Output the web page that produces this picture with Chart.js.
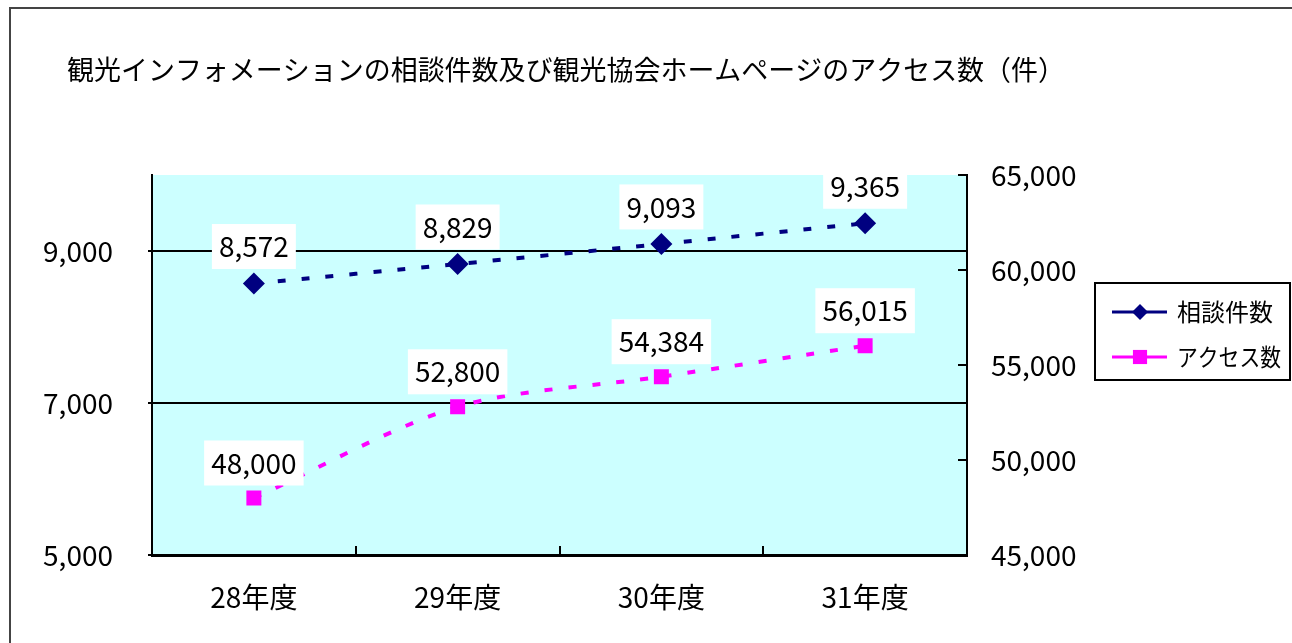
<!DOCTYPE html>
<html>
<head>
<meta charset="utf-8">
<script src="https://cdn.jsdelivr.net/npm/chart.js@4/dist/chart.umd.min.js"></script>
<style>
  html, body { margin: 0; padding: 0; background: #fff; }
  #wrap { width: 1292px; height: 643px; }
</style>
</head>
<body>
<div id="wrap"><canvas id="chart" width="1292" height="643"></canvas></div>
<script>
var categories = ['28年度', '29年度', '30年度', '31年度'];
var consultCounts = [8572, 8829, 9093, 9365];
var accessCounts = [48000, 52800, 54384, 56015];
var leftTicks = [5000, 7000, 9000];
var rightTicks = [45000, 50000, 55000, 60000, 65000];
var titleText = '観光インフォメーションの相談件数及び観光協会ホームページのアクセス数（件）';

var FONT = "'Noto Sans CJK JP', 'Noto Sans', sans-serif";
Chart.defaults.font.family = FONT;
Chart.defaults.color = '#000';

function fmt(v) {
    return String(v).replace(/\B(?=(\d{3})+(?!\d))/g, ',');
}

// frame, title, plot background
var backdrop = {
    id: 'backdrop',
    beforeDraw: function (chart) {
        var ctx = chart.ctx, a = chart.chartArea;
        ctx.save();
        ctx.fillStyle = '#fff';
        ctx.fillRect(0, 0, chart.width, chart.height);
        ctx.strokeStyle = '#444';
        ctx.lineWidth = 2;
        ctx.beginPath();
        ctx.moveTo(10, 643);
        ctx.lineTo(10, 8);
        ctx.lineTo(1292, 8);
        ctx.stroke();
        ctx.fillStyle = '#CCFFFF';
        ctx.fillRect(a.left, a.top, a.right - a.left, a.bottom - a.top);
        ctx.fillStyle = '#000';
        ctx.font = '27.5px ' + FONT;
        ctx.textAlign = 'left';
        ctx.textBaseline = 'middle';
        ctx.fillText(titleText, 67, 70, 998);
        ctx.restore();
    }
};

// inward tick marks on the right and bottom axes
var innerTicks = {
    id: 'innerTicks',
    afterDraw: function (chart) {
        var ctx = chart.ctx, a = chart.chartArea;
        var x = chart.scales.x, y2 = chart.scales.y2;
        ctx.save();
        ctx.strokeStyle = '#000';
        ctx.lineWidth = 2;
        ctx.beginPath();
        rightTicks.forEach(function (v) {
            var py = Math.round(y2.getPixelForValue(v));
            ctx.moveTo(a.right, py);
            ctx.lineTo(a.right - 9, py);
        });
        for (var i = 0; i < categories.length - 1; i++) {
            var px = Math.round((x.getPixelForValue(i) + x.getPixelForValue(i + 1)) / 2);
            ctx.moveTo(px, a.bottom);
            ctx.lineTo(px, a.bottom - 9);
        }
        ctx.stroke();
        ctx.restore();
    }
};

// value labels in white boxes
var valueLabels = {
    id: 'valueLabels',
    afterDatasetsDraw: function (chart) {
        var ctx = chart.ctx;
        var offsets = [37, 35];
        ctx.save();
        ctx.font = '28px ' + FONT;
        ctx.textAlign = 'center';
        ctx.textBaseline = 'middle';
        chart.data.datasets.forEach(function (ds, di) {
            chart.getDatasetMeta(di).data.forEach(function (pt, i) {
                var txt = fmt(ds.data[i]);
                var w = ctx.measureText(txt).width + 14;
                var h = 45;
                var cy = pt.y - offsets[di];
                ctx.fillStyle = '#fff';
                ctx.fillRect(pt.x - w / 2, cy - h / 2, w, h);
                ctx.fillStyle = '#000';
                ctx.fillText(txt, pt.x, cy);
            });
        });
        ctx.restore();
    }
};

// legend box on the right
var sideLegend = {
    id: 'sideLegend',
    afterDraw: function (chart) {
        var ctx = chart.ctx;
        var bx = 1095, by = 283, bw = 195, bh = 97;
        ctx.save();
        ctx.fillStyle = '#fff';
        ctx.fillRect(bx, by, bw, bh);
        ctx.strokeStyle = '#000';
        ctx.lineWidth = 2;
        ctx.strokeRect(bx, by, bw, bh);
        var rows = [312, 357];
        var radii = [8, 10];
        chart.data.datasets.forEach(function (ds, di) {
            var ry = rows[di];
            ctx.strokeStyle = ds.borderColor;
            ctx.lineWidth = 3;
            ctx.setLineDash([]);
            ctx.beginPath();
            ctx.moveTo(1112, ry);
            ctx.lineTo(1167, ry);
            ctx.stroke();
            ctx.fillStyle = ds.backgroundColor;
            ctx.strokeStyle = ds.borderColor;
            Chart.helpers.drawPoint(ctx, { pointStyle: ds.pointStyle, radius: radii[di], borderWidth: 0, rotation: 0 }, 1140, ry);
            ctx.fillStyle = '#000';
            ctx.font = '24px ' + FONT;
            ctx.textAlign = 'left';
            ctx.textBaseline = 'middle';
            ctx.fillText(ds.label, 1177, ry, 104);
        });
        ctx.restore();
    }
};

new Chart(document.getElementById('chart').getContext('2d'), {
    type: 'line',
    data: {
        labels: categories,
        datasets: [
            {
                label: '相談件数',
                data: consultCounts,
                yAxisID: 'y',
                borderColor: '#000080',
                backgroundColor: '#000080',
                borderWidth: 4,
                borderDash: [8, 16],
                tension: 0.3,
                fill: false,
                pointStyle: 'rectRot',
                pointRadius: 11,
                pointBorderWidth: 0,
                pointHoverRadius: 11
            },
            {
                label: 'アクセス数',
                data: accessCounts,
                yAxisID: 'y2',
                borderColor: '#FF00FF',
                backgroundColor: '#FF00FF',
                borderWidth: 4,
                borderDash: [8, 16],
                tension: 0.3,
                fill: false,
                pointStyle: 'rect',
                pointRadius: 10.6,
                pointBorderWidth: 0,
                pointHoverRadius: 10.6
            }
        ]
    },
    options: {
        responsive: false,
        animation: false,
        layout: { padding: { top: 175, left: 0, right: 0, bottom: 0 } },
        plugins: {
            legend: { display: false },
            title: { display: false },
            tooltip: { enabled: false }
        },
        scales: {
            x: {
                offset: true,
                grid: { display: false, drawTicks: false },
                border: { display: true, color: '#000', width: 3 },
                ticks: { color: '#000', font: { size: 28 }, padding: 26, maxRotation: 0, autoSkip: false },
                afterFit: function (s) { s.height = 88; }
            },
            y: {
                position: 'left',
                min: 5000,
                max: 10000,
                afterBuildTicks: function (s) { s.ticks = leftTicks.map(function (v) { return { value: v }; }); },
                grid: { color: '#000', lineWidth: 2, drawTicks: true, tickLength: 4, tickColor: '#000' },
                border: { display: true, color: '#000', width: 2 },
                ticks: { color: '#000', font: { size: 28 }, padding: 35, callback: function (v) { return fmt(v); } },
                afterFit: function (s) { s.width = 152; }
            },
            y2: {
                position: 'right',
                min: 45000,
                max: 65000,
                afterBuildTicks: function (s) { s.ticks = rightTicks.map(function (v) { return { value: v }; }); },
                grid: { drawOnChartArea: false, drawTicks: false },
                border: { display: true, color: '#000', width: 2 },
                ticks: { color: '#000', font: { size: 28 }, padding: 24, callback: function (v) { return fmt(v); } },
                afterFit: function (s) { s.width = 325; }
            }
        }
    },
    plugins: [backdrop, valueLabels, innerTicks, sideLegend]
});
</script>
</body>
</html>
